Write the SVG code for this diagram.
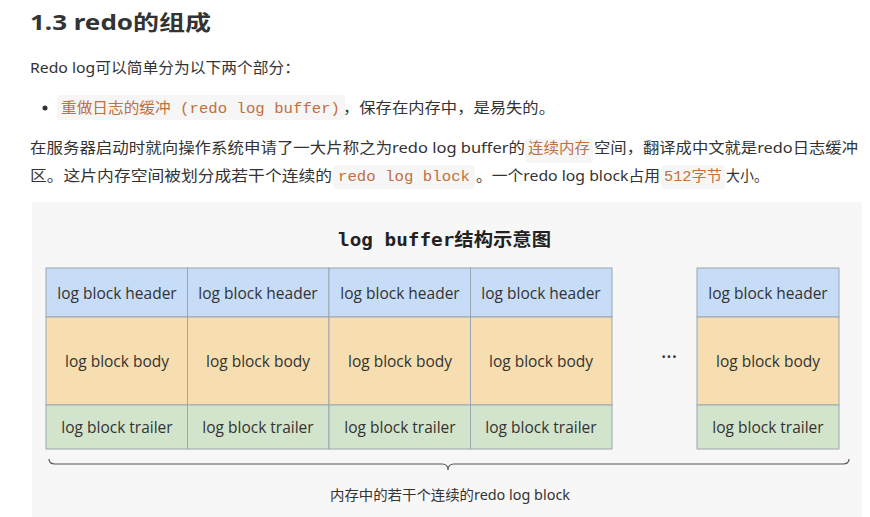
<svg xmlns="http://www.w3.org/2000/svg" width="870" height="517" viewBox="0 0 870 517">
<style>
.t{font-family:"Noto Sans","Noto Sans CJK SC",sans-serif;fill:#333}
.c{font-family:"Liberation Mono","Noto Sans CJK SC",monospace;fill:#c2703d;font-size:15px}
.cb{fill:#f6f6f6}
.h{fill:#c6dcf7;stroke:#9aa6b2;stroke-width:1}
.b{fill:#f6deb0;stroke:#9aa6b2;stroke-width:1}
.r{fill:#d3e4cc;stroke:#9aa6b2;stroke-width:1}
.l{font-family:"Open Sans","Noto Sans",sans-serif;font-size:15.5px;fill:#333;text-anchor:middle}
</style>
<rect width="870" height="517" fill="#fff"/>
<text class="t" x="30" y="30" font-size="21" font-weight="bold" fill="#2c3e50" textLength="181" lengthAdjust="spacingAndGlyphs">1.3 redo的组成</text>
<text class="t" x="30" y="73" font-size="15" textLength="270" lengthAdjust="spacingAndGlyphs">Redo log可以简单分为以下两个部分：</text>
<circle cx="45" cy="108" r="2.5" fill="#333"/>
<rect class="cb" x="57" y="95" width="288" height="25" rx="3"/>
<text class="c" x="61" y="113" textLength="279" lengthAdjust="spacingAndGlyphs">重做日志的缓冲 (redo log buffer)</text>
<text class="t" x="343" y="113" font-size="15" textLength="212" lengthAdjust="spacingAndGlyphs">，保存在内存中，是易失的。</text>
<text class="t" x="30" y="153" font-size="15" textLength="495" lengthAdjust="spacingAndGlyphs">在服务器启动时就向操作系统申请了一大片称之为redo log buffer的</text>
<rect class="cb" x="525" y="139" width="68" height="24" rx="3"/>
<text class="c" x="528" y="153" textLength="62" lengthAdjust="spacingAndGlyphs">连续内存</text>
<text class="t" x="594" y="153" font-size="15" textLength="264" lengthAdjust="spacingAndGlyphs">空间，翻译成中文就是redo日志缓冲</text>
<text class="t" x="30" y="181" font-size="15" textLength="302" lengthAdjust="spacingAndGlyphs">区。这片内存空间被划分成若干个连续的</text>
<rect class="cb" x="333" y="165" width="142" height="24" rx="3"/>
<text class="c" x="338" y="181" textLength="132" lengthAdjust="spacingAndGlyphs">redo log block</text>
<text class="t" x="476" y="181" font-size="15" textLength="184" lengthAdjust="spacingAndGlyphs">。一个redo log block占用</text>
<rect class="cb" x="661" y="165" width="64" height="24" rx="3"/>
<text class="c" x="664" y="181" textLength="58" lengthAdjust="spacingAndGlyphs">512字节</text>
<text class="t" x="726" y="181" font-size="15" textLength="42" lengthAdjust="spacingAndGlyphs">大小。</text>
<rect x="32" y="202" width="830" height="315" fill="#f7f7f7"/>
<text x="338" y="246" font-family="DejaVu Sans Mono,Noto Sans CJK SC,monospace" font-size="18" font-weight="bold" fill="#222" textLength="213" lengthAdjust="spacingAndGlyphs">log buffer结构示意图</text>
<g id="block1"><rect class="h" x="46" y="268" width="141.5" height="49"/><rect class="b" x="46" y="317" width="141.5" height="88"/><rect class="r" x="46" y="405" width="141.5" height="44"/>
<text class="l" x="117" y="299">log block header</text><text class="l" x="117" y="367">log block body</text><text class="l" x="117" y="433">log block trailer</text></g>
<g id="block2"><rect class="h" x="187.5" y="268" width="141.5" height="49"/><rect class="b" x="187.5" y="317" width="141.5" height="88"/><rect class="r" x="187.5" y="405" width="141.5" height="44"/>
<text class="l" x="258" y="299">log block header</text><text class="l" x="258" y="367">log block body</text><text class="l" x="258" y="433">log block trailer</text></g>
<g id="block3"><rect class="h" x="329" y="268" width="141.5" height="49"/><rect class="b" x="329" y="317" width="141.5" height="88"/><rect class="r" x="329" y="405" width="141.5" height="44"/>
<text class="l" x="400" y="299">log block header</text><text class="l" x="400" y="367">log block body</text><text class="l" x="400" y="433">log block trailer</text></g>
<g id="block4"><rect class="h" x="470.5" y="268" width="141.5" height="49"/><rect class="b" x="470.5" y="317" width="141.5" height="88"/><rect class="r" x="470.5" y="405" width="141.5" height="44"/>
<text class="l" x="541" y="299">log block header</text><text class="l" x="541" y="367">log block body</text><text class="l" x="541" y="433">log block trailer</text></g>
<text x="669" y="364" text-anchor="middle" font-family="Noto Sans,sans-serif" font-size="20" fill="#333">···</text>
<g id="block5"><rect class="h" x="697" y="268" width="142" height="49"/><rect class="b" x="697" y="317" width="142" height="88"/><rect class="r" x="697" y="405" width="142" height="44"/>
<text class="l" x="768" y="299">log block header</text><text class="l" x="768" y="367">log block body</text><text class="l" x="768" y="433">log block trailer</text></g>
<g id="connectors"><path d="M49 459 Q49 464 55 464 L442 464 Q448 464 448 470 Q448 464 454 464 L843 464 Q849 464 849 459" fill="none" stroke="#555" stroke-width="1.2"/></g>
<text x="450" y="500" text-anchor="middle" font-family="Noto Sans,Noto Sans CJK SC,sans-serif" font-size="13.5" fill="#333" textLength="240" lengthAdjust="spacingAndGlyphs">内存中的若干个连续的redo log block</text>
</svg>
